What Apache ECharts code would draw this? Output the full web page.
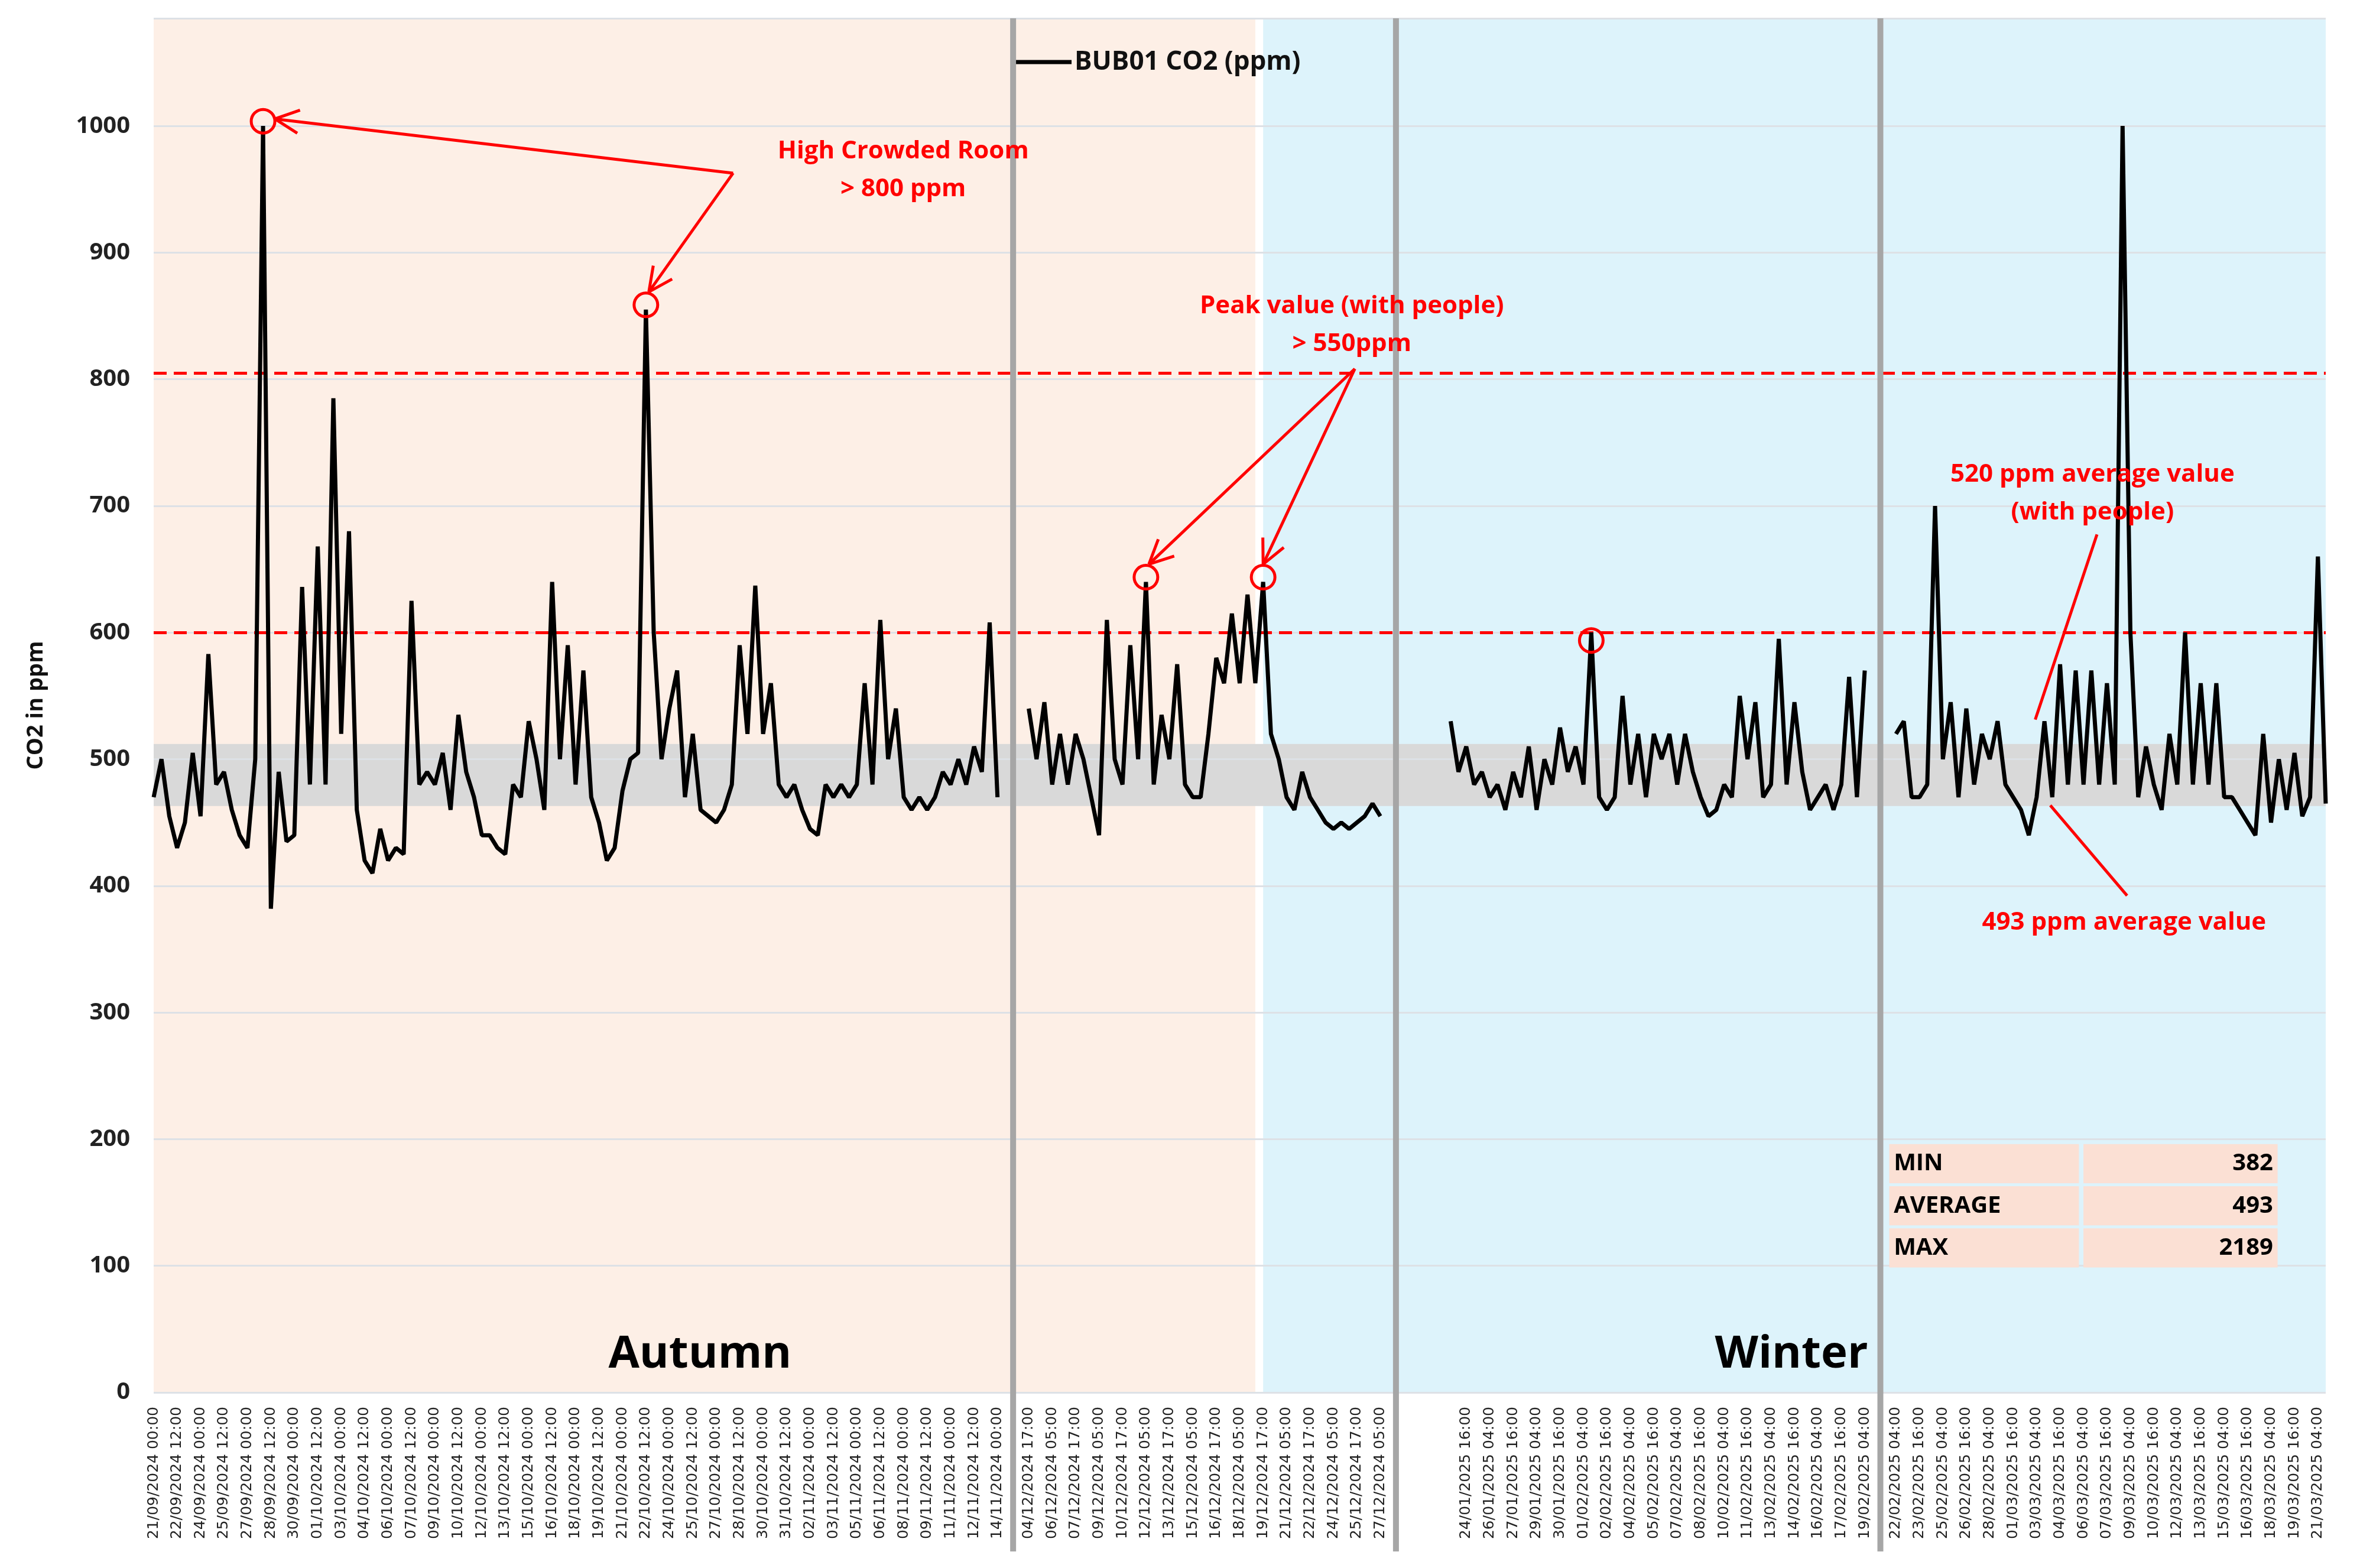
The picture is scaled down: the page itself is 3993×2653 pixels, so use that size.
<!DOCTYPE html>
<html>
<head>
<meta charset="utf-8">
<script src="https://cdn.jsdelivr.net/npm/echarts@6/dist/echarts.min.js"></script>
<style>html,body{margin:0;padding:0;background:#fff}#main{width:3993px;height:2653px}</style>
</head>
<body>
<div id="main"></div>
<script>
// CO2 readings, 12 h steps per segment
const seg1Values = [470, 500, 455, 430, 450, 505, 455, 583, 480, 490, 460, 440, 430, 500, 1000, 382, 490, 435, 440, 636,
    480, 668, 480, 785, 520, 680, 460, 420, 410, 445, 420, 430, 425, 625, 480, 490, 480, 505, 460, 535,
    490, 470, 440, 440, 430, 425, 480, 470, 530, 500, 460, 640, 500, 590, 480, 570, 470, 450, 420, 430,
    475, 500, 505, 855, 600, 500, 540, 570, 470, 520, 460, 455, 450, 460, 480, 590, 520, 637, 520, 560,
    480, 470, 480, 460, 445, 440, 480, 470, 480, 470, 480, 560, 480, 610, 500, 540, 470, 460, 470, 460,
    470, 490, 480, 500, 480, 510, 490, 608, 470];
const seg2Values = [540, 500, 545, 480, 520, 480, 520, 500, 470, 440, 610, 500, 480, 590, 500, 640, 480, 535, 500, 575,
    480, 470, 470, 520, 580, 560, 615, 560, 630, 560, 640, 520, 500, 470, 460, 490, 470, 460, 450, 445,
    450, 445, 450, 455, 465, 455];
const seg3Values = [530, 490, 510, 480, 490, 470, 480, 460, 490, 470, 510, 460, 500, 480, 525, 490, 510, 480, 600, 470,
    460, 470, 550, 480, 520, 470, 520, 500, 520, 480, 520, 490, 470, 455, 460, 480, 470, 550, 500, 545,
    470, 480, 595, 480, 545, 490, 460, 470, 480, 460, 480, 565, 470, 570];
const seg4Values = [520, 530, 470, 470, 480, 700, 500, 545, 470, 540, 480, 520, 500, 530, 480, 470, 460, 440, 470, 530,
    470, 575, 480, 570, 480, 570, 480, 560, 480, 1000, 600, 470, 510, 480, 460, 520, 480, 600, 480, 560,
    480, 560, 470, 470, 460, 450, 440, 520, 450, 500, 460, 505, 455, 470, 660, 465];

const seg1Labels = ['21/09/2024 00:00', '22/09/2024 12:00', '24/09/2024 00:00', '25/09/2024 12:00', '27/09/2024 00:00',
    '28/09/2024 12:00', '30/09/2024 00:00', '01/10/2024 12:00', '03/10/2024 00:00', '04/10/2024 12:00',
    '06/10/2024 00:00', '07/10/2024 12:00', '09/10/2024 00:00', '10/10/2024 12:00', '12/10/2024 00:00',
    '13/10/2024 12:00', '15/10/2024 00:00', '16/10/2024 12:00', '18/10/2024 00:00', '19/10/2024 12:00',
    '21/10/2024 00:00', '22/10/2024 12:00', '24/10/2024 00:00', '25/10/2024 12:00', '27/10/2024 00:00',
    '28/10/2024 12:00', '30/10/2024 00:00', '31/10/2024 12:00', '02/11/2024 00:00', '03/11/2024 12:00',
    '05/11/2024 00:00', '06/11/2024 12:00', '08/11/2024 00:00', '09/11/2024 12:00', '11/11/2024 00:00',
    '12/11/2024 12:00', '14/11/2024 00:00'];
const seg2Labels = ['04/12/2024 17:00', '06/12/2024 05:00', '07/12/2024 17:00', '09/12/2024 05:00', '10/12/2024 17:00',
    '12/12/2024 05:00', '13/12/2024 17:00', '15/12/2024 05:00', '16/12/2024 17:00', '18/12/2024 05:00',
    '19/12/2024 17:00', '21/12/2024 05:00', '22/12/2024 17:00', '24/12/2024 05:00', '25/12/2024 17:00',
    '27/12/2024 05:00'];
const seg3Labels = ['24/01/2025 16:00', '26/01/2025 04:00', '27/01/2025 16:00', '29/01/2025 04:00', '30/01/2025 16:00',
    '01/02/2025 04:00', '02/02/2025 16:00', '04/02/2025 04:00', '05/02/2025 16:00', '07/02/2025 04:00',
    '08/02/2025 16:00', '10/02/2025 04:00', '11/02/2025 16:00', '13/02/2025 04:00', '14/02/2025 16:00',
    '16/02/2025 04:00', '17/02/2025 16:00', '19/02/2025 04:00'];
const seg4Labels = ['22/02/2025 04:00', '23/02/2025 16:00', '25/02/2025 04:00', '26/02/2025 16:00', '28/02/2025 04:00',
    '01/03/2025 16:00', '03/03/2025 04:00', '04/03/2025 16:00', '06/03/2025 04:00', '07/03/2025 16:00',
    '09/03/2025 04:00', '10/03/2025 16:00', '12/03/2025 04:00', '13/03/2025 16:00', '15/03/2025 04:00',
    '16/03/2025 16:00', '18/03/2025 04:00', '19/03/2025 16:00', '21/03/2025 04:00'];

const statNames = ['MIN', 'AVERAGE', 'MAX'];
const statValues = [382, 493, 2189];
const thresholds = [805, 600];
const avgBand = [463, 512];

// build the category axis: segments separated by empty slots
const segments = [
    {values: seg1Values, labels: seg1Labels, first: 0, gapAfter: 3},
    {values: seg2Values, labels: seg2Labels, first: 0, gapAfter: 8},
    {values: seg3Values, labels: seg3Labels, first: 2, gapAfter: 3},
    {values: seg4Values, labels: seg4Labels, first: 0, gapAfter: 0},
];
let cats = [], tickText = [], series = [], segStart = [];
segments.forEach((seg) => {
    segStart.push(cats.length);
    seg.values.forEach((v, i) => {
        let k = i - seg.first;
        tickText.push(k >= 0 && k % 3 === 0 && seg.labels[k / 3] ? seg.labels[k / 3] : '');
        cats.push(String(cats.length));
        series.push(v);
    });
    for (let g = 0; g < seg.gapAfter; g++) {
        tickText.push('');
        cats.push(String(cats.length));
        series.push(null);
    }
});
const last = cats.length - 1;

const S = 2.547;
const FONT = 'Open Sans';
const RED = '#ff0000';

var chart = echarts.init(document.getElementById('main'));
var option = {
    animation: false,
    grid: {left: 260, right: 58, top: 31, bottom: 297},
    legend: {
        data: ['BUB01 CO2 (ppm)'], top: 78, left: 1708,
        icon: 'rect', itemWidth: 100, itemHeight: 7, itemGap: 10,
        textStyle: {fontFamily: FONT, fontWeight: 'bold', fontSize: 44, color: '#111'},
    },
    xAxis: {
        type: 'category', data: cats, boundaryGap: false,
        axisLine: {show: false}, axisTick: {show: false},
        axisLabel: {
            interval: 0, rotate: 90, fontFamily: 'DejaVu Sans', fontSize: 25, color: '#222', margin: 24,
            formatter: (v, i) => tickText[i],
        },
    },
    yAxis: {
        type: 'value', min: 0, max: 1085, interval: 100, z: 3,
        name: 'CO2 in ppm', nameLocation: 'middle', nameGap: 180,
        nameTextStyle: {fontFamily: FONT, fontWeight: 'bold', fontSize: 38, color: '#111'},
        axisLine: {show: false}, axisTick: {show: false},
        axisLabel: {
            fontFamily: FONT, fontWeight: 'bold', fontSize: 40, color: '#222', margin: 40,
            formatter: (v) => v > 1000 ? '' : v,
        },
        splitLine: {lineStyle: {color: '#dde1e6', width: 3}},
    },
    series: [
        {
            name: 'bg', type: 'line', data: [], z: 1, silent: true,
            markArea: {
                silent: true,
                data: [
                    [{xAxis: 0, itemStyle: {color: '#fdefe6'}}, {xAxis: 141}],
                    [{xAxis: 142, itemStyle: {color: '#ddf3fb'}}, {xAxis: last}],
                ],
            },
        },
        {
            name: 'band', type: 'line', data: [], z: 2, silent: true,
            markArea: {
                silent: true,
                itemStyle: {color: '#d9d9d9'},
                data: [[{yAxis: avgBand[0]}, {yAxis: avgBand[1]}]],
            },
        },
        {
            name: 'BUB01 CO2 (ppm)', type: 'line', data: series, z: 5,
            showSymbol: false, connectNulls: false,
            lineStyle: {color: '#000', width: 7}, itemStyle: {color: '#000'},
            markLine: {
                silent: true, symbol: 'none', label: {show: false},
                lineStyle: {color: RED, type: [22, 12], width: 5},
                data: thresholds.map((t) => ({yAxis: t})),
            },
        },
    ],
};
chart.setOption(option);

// annotations
const px = (i, v) => chart.convertToPixel({xAxisIndex: 0, yAxisIndex: 0}, [i, v]);
const p = (x, y) => [x * S, y * S];
let g = [];
const gray = [segStart[1] - 2, segStart[2] - 7, segStart[3] - 2];
gray.forEach((i) => {
    let x = px(i, 0)[0];
    g.push({type: 'line', shape: {x1: x, y1: 31, x2: x, y2: 2625}, style: {stroke: '#a6a6a6', lineWidth: 10}, z: 10});
});
const arrow = (a, b) => {
    g.push({type: 'line', shape: {x1: a[0], y1: a[1], x2: b[0], y2: b[1]}, style: {stroke: RED, lineWidth: 5}, z: 20});
    let ang = Math.atan2(a[1] - b[1], a[0] - b[0]), L = 45;
    [0.45, -0.45].forEach((d) => {
        g.push({type: 'line', shape: {x1: b[0], y1: b[1], x2: b[0] + L * Math.cos(ang + d), y2: b[1] + L * Math.sin(ang + d)},
            style: {stroke: RED, lineWidth: 5}, z: 20});
    });
};
const plain = (a, b) => g.push({type: 'line', shape: {x1: a[0], y1: a[1], x2: b[0], y2: b[1]}, style: {stroke: RED, lineWidth: 5}, z: 20});
const circles = [[14, 1000], [63, 855], [segStart[1] + 15, 640], [segStart[1] + 30, 640], [segStart[2] + 18, 590]];
let cp = circles.map((c) => px(c[0], c[1]));
cp.forEach((c) => g.push({type: 'circle', shape: {cx: c[0], cy: c[1] - 8, r: 20}, style: {fill: 'none', stroke: RED, lineWidth: 5}, z: 20}));
arrow(p(487, 115), [cp[0][0] + 20, cp[0][1] - 12]);
arrow(p(487, 115), [cp[1][0] + 5, cp[1][1] - 30]);
arrow(p(900, 245), [cp[2][0] + 5, cp[2][1] - 30]);
arrow(p(900, 245), [cp[3][0], cp[3][1] - 30]);
plain(p(1393, 355), p(1352, 478));
plain(p(1413, 595), p(1362, 535));
const redText = (x, y, t) => g.push({type: 'text', x: x * S, y: y * S, z: 21,
    style: {text: t, fill: RED, font: 'bold 42px "' + FONT + '"', textAlign: 'center', textVerticalAlign: 'middle', lineHeight: 64}});
redText(600, 113, 'High Crowded Room\n> 800 ppm');
redText(898, 216, 'Peak value (with people)\n> 550ppm');
redText(1390, 328, '520 ppm average value\n(with people)');
redText(1411, 613, '493 ppm average value');
[['Autumn', 465], ['Winter', 1190]].forEach((s) => g.push({type: 'text', x: s[1] * S, y: 900 * S, z: 21,
    style: {text: s[0], fill: '#000', font: 'bold 76px "' + FONT + '"', textAlign: 'center', textVerticalAlign: 'middle'}}));
statNames.forEach((n, r) => {
    let y = (760 + r * 28) * S;
    g.push({type: 'rect', shape: {x: 1255 * S, y: y, width: 126 * S, height: 26 * S}, style: {fill: '#fbe0d4'}, z: 15});
    g.push({type: 'rect', shape: {x: 1384 * S, y: y, width: 129 * S, height: 26 * S}, style: {fill: '#fbe0d4'}, z: 15});
    g.push({type: 'text', x: 1258 * S, y: y + 13 * S, z: 16,
        style: {text: n, fill: '#000', font: 'bold 40px "' + FONT + '"', textVerticalAlign: 'middle'}});
    g.push({type: 'text', x: 1510 * S, y: y + 13 * S, z: 16,
        style: {text: String(statValues[r]), fill: '#000', font: 'bold 40px "' + FONT + '"', textAlign: 'right', textVerticalAlign: 'middle'}});
});
chart.setOption({graphic: g});
</script>
</body>
</html>
